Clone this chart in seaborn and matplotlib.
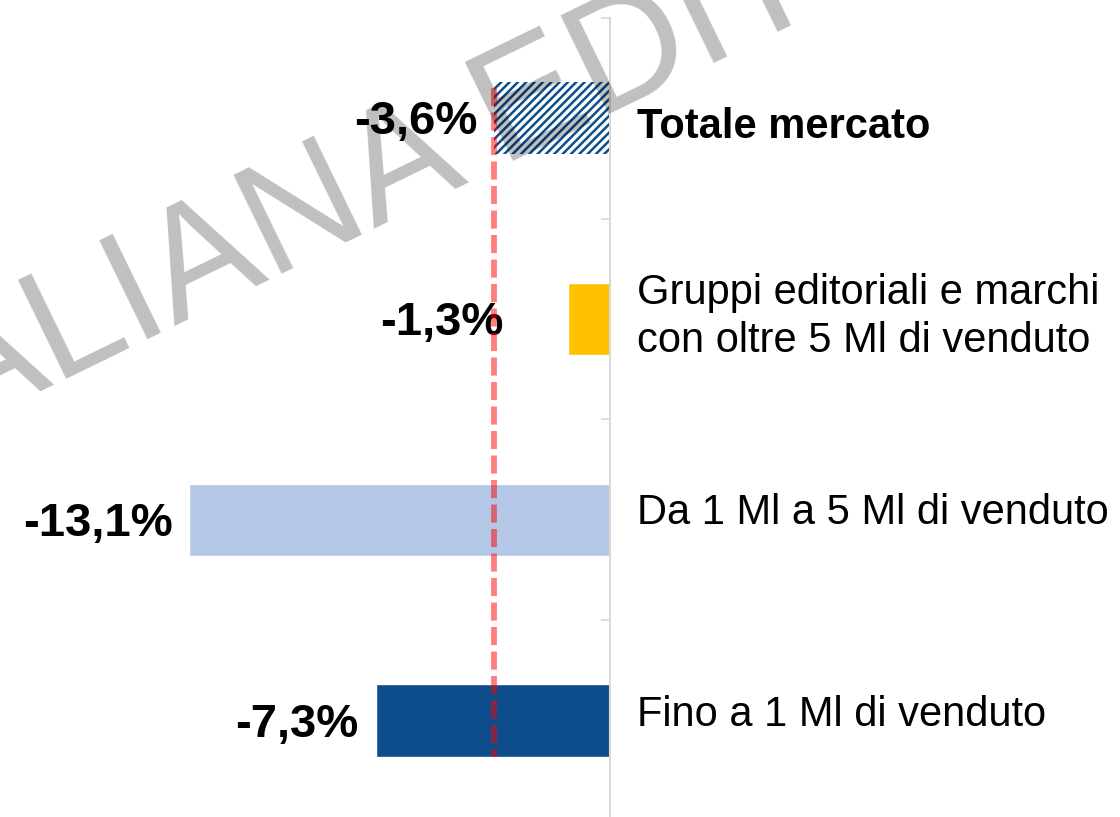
import pandas as pd
import seaborn as sns
import matplotlib.pyplot as plt

# Variazione a valore per classe di editore
categories = ['Totale mercato',
              'Gruppi editoriali e marchi\ncon oltre 5 Ml di venduto',
              'Da 1 Ml a 5 Ml di venduto',
              'Fino a 1 Ml di venduto']
variation = [-3.6, -1.3, -13.1, -7.3]
value_labels = ['-3,6%', '-1,3%', '-13,1%', '-7,3%']
bar_colors = ['#FFFFFF', '#FFC000', '#B4C7E7', '#0E4D8C']
total_value = variation[0]

df = pd.DataFrame({'cat': categories, 'var': variation})

sns.set_style('white')
plt.rcParams['font.family'] = ['Liberation Sans', 'DejaVu Sans']
plt.rcParams['hatch.linewidth'] = 1.8

fig = plt.figure(figsize=(11.2, 8.17), dpi=100)
ax = fig.add_axes([0, -0.0049, 610 / 1120, 0.983])

bar_w = 0.36
sns.barplot(data=df, x='var', y='cat', hue='cat', palette=bar_colors,
            orient='h', width=bar_w, legend=False, ax=ax, saturation=1)

# hatched bar for the total market
tot = ax.patches[0]
tot.set_facecolor('white')
tot.set_edgecolor('#0E4D8C')
tot.set_hatch('////')
tot.set_linewidth(0)
if hasattr(tot, 'set_hatch_linewidth'):
    tot.set_hatch_linewidth(1.8)

ax.set_xlim(-19.0, 0)
ax.set_ylim(3.5, -0.5)

# reference line at the market total
ax.plot([total_value, total_value], [-0.15, len(categories) - 1 + bar_w / 2],
        color='red', alpha=0.5, lw=4.2, dashes=(3.1, 1.1), zorder=5)

for sp in ['top', 'left', 'bottom']:
    ax.spines[sp].set_visible(False)
ax.spines['right'].set_color('#D9D9D9')
ax.spines['right'].set_linewidth(1.5)
ax.set_xticks([])
ax.yaxis.tick_right()
ax.set_yticks([-0.5, 0.5, 1.5, 2.5, 3.5])
ax.tick_params(axis='y', direction='in', length=6.5, width=1.2,
               color='#D9D9D9', labelright=False, labelleft=False)
ax.set_xlabel('')
ax.set_ylabel('')

# value labels, left of the bars
for i, (v, lab) in enumerate(zip(variation, value_labels)):
    ax.annotate(lab, xy=(min(v, -2.8), i), xytext=(-12.2, -3),
                textcoords='offset points', ha='right', va='center',
                fontsize=34, fontweight='bold', color='black')

# category labels, right of the axis
label_dy = [-6, 1.5, 5, 4]
for i, cat in enumerate(categories):
    ax.annotate(cat, xy=(0, i), xytext=(19.4, label_dy[i]),
                textcoords='offset points', ha='left', va='center',
                fontsize=30, color='black', annotation_clip=False,
                fontweight='bold' if i == 0 else 'normal', linespacing=1.25)

# watermark
fig.text(-158 / 1120, 1 - 488 / 817, 'ITALIANA EDITORI', fontsize=115,
         color='black', alpha=0.25, rotation=26, ha='left', va='baseline',
         rotation_mode='anchor', zorder=10)

fig.savefig('out.png', dpi=100)
